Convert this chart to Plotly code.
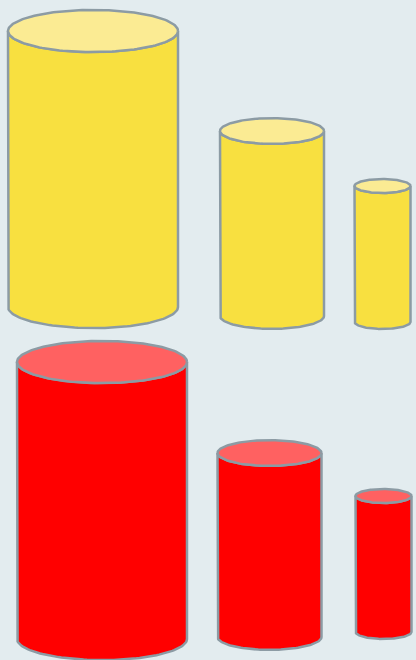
import numpy as np
import plotly.graph_objects as go

# Data
categories = ["A", "B", "C"]
top_values = [276, 185, 136]      # cylinder heights, yellow row
bottom_values = [277, 184, 136]   # cylinder heights, red row

# Layout parameters (chart units, y downward)
widths = [170, 104, 56]
top_centers = [93, 272, 382.5]
top_base = [307, 316, 322]
bot_centers = [102, 269.5, 383.5]
bot_base = [639, 637, 632]

YELLOW_BODY = "#F8E040"
YELLOW_TOP = "#FBEB93"
RED_BODY = "#FF0000"
RED_TOP = "#FF6161"
OUTLINE = "#8C9BA4"
BG = "#E3ECEF"

fig = go.Figure()


def add_cylinder(cx, w, ybase, h, body, top):
    rx = w / 2
    ry = w * 0.124
    ytop = ybase - h
    t = np.linspace(0, np.pi, 80)
    # bottom front arc from left to right
    bx = cx - rx * np.cos(t)
    by = ybase + ry * np.sin(t)
    # top front arc from right to left
    tx = cx + rx * np.cos(t)
    ty = ytop + ry * np.sin(t)
    xs = np.concatenate([[cx - rx], bx, [cx + rx], tx])
    ys = np.concatenate([[ytop], by, [ytop], ty])
    fig.add_trace(go.Scatter(x=xs, y=ys, mode="lines", fill="toself",
                             fillcolor=body, line=dict(color=OUTLINE, width=2.5),
                             hoverinfo="skip", showlegend=False))
    tt = np.linspace(0, 2 * np.pi, 160)
    ex = cx + rx * np.cos(tt)
    ey = ytop + ry * np.sin(tt)
    fig.add_trace(go.Scatter(x=ex, y=ey, mode="lines", fill="toself",
                             fillcolor=top, line=dict(color=OUTLINE, width=2.5),
                             hoverinfo="skip", showlegend=False))


for i, c in enumerate(categories):
    add_cylinder(top_centers[i], widths[i], top_base[i], top_values[i], YELLOW_BODY, YELLOW_TOP)
for i, c in enumerate(categories):
    add_cylinder(bot_centers[i], widths[i], bot_base[i], bottom_values[i], RED_BODY, RED_TOP)

fig.update_layout(
    width=416, height=660,
    margin=dict(l=0, r=0, t=0, b=0),
    paper_bgcolor=BG, plot_bgcolor=BG,
    xaxis=dict(range=[0, 416], visible=False, fixedrange=True),
    yaxis=dict(range=[660, 0], visible=False, fixedrange=True),
    showlegend=False,
)
fig.write_html("out.html", config={"displayModeBar": False})
